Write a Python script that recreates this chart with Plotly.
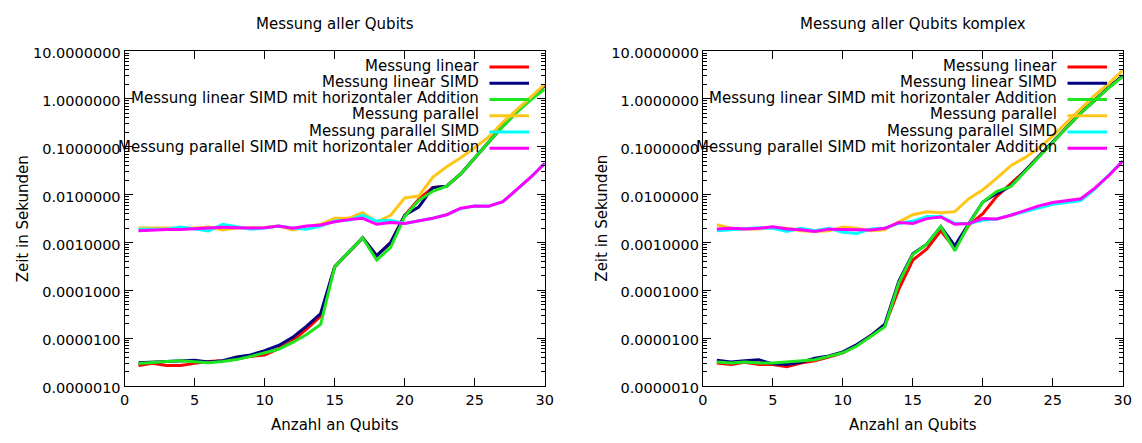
import plotly.graph_objects as go

W, H = 1142, 443

qubits = list(range(1, 31))

series_names = [
    "Messung linear",
    "Messung linear SIMD",
    "Messung linear SIMD mit horizontaler Addition",
    "Messung parallel",
    "Messung parallel SIMD",
    "Messung parallel SIMD mit horizontaler Addition",
]
series_colors = ["#ff0000", "#000080", "#1ee61e", "#ffc61a", "#00ffff", "#ff00ff"]

# --- Messung aller Qubits (seconds) ---
a_linear = [2.7e-6, 3.0e-6, 2.7e-6, 2.7e-6, 3.0e-6, 3.3e-6, 3.4e-6, 3.7e-6, 4.2e-6, 4.5e-6,
            6.1e-6, 9.0e-6, 1.55e-5, 2.9e-5, 3.1e-4, 6.3e-4, 1.25e-3, 5.3e-4, 1.0e-3, 3.7e-3,
            8.0e-3, 1.4e-2, 1.5e-2, 2.7e-2, 5.9e-2, 0.127, 0.27, 0.55, 1.0, 1.9]
a_linear_simd = [3.1e-6, 3.2e-6, 3.3e-6, 3.4e-6, 3.5e-6, 3.2e-6, 3.4e-6, 4.1e-6, 4.5e-6, 5.5e-6,
                 7.1e-6, 1.05e-5, 1.8e-5, 3.3e-5, 3.1e-4, 6.3e-4, 1.25e-3, 5.3e-4, 1.0e-3, 3.7e-3,
                 5.5e-3, 1.4e-2, 1.5e-2, 2.7e-2, 5.9e-2, 0.127, 0.27, 0.55, 1.0, 1.9]
a_linear_simd_ha = [3.0e-6, 3.2e-6, 3.3e-6, 3.4e-6, 3.3e-6, 3.1e-6, 3.3e-6, 3.6e-6, 4.2e-6, 4.9e-6,
                    5.9e-6, 8.2e-6, 1.2e-5, 1.95e-5, 3.1e-4, 6.3e-4, 1.25e-3, 4.3e-4, 7.9e-4, 3.5e-3,
                    7.5e-3, 1.17e-2, 1.5e-2, 2.7e-2, 5.9e-2, 0.125, 0.26, 0.52, 0.95, 1.6]
a_parallel = [2.0e-3, 2.0e-3, 2.0e-3, 2.0e-3, 2.0e-3, 2.1e-3, 1.83e-3, 2.0e-3, 2.0e-3, 2.05e-3,
              2.2e-3, 1.83e-3, 2.1e-3, 2.4e-3, 3.2e-3, 3.2e-3, 4.2e-3, 2.7e-3, 3.7e-3, 8.5e-3,
              9.3e-3, 2.3e-2, 3.8e-2, 5.9e-2, 9.6e-2, 0.16, 0.32, 0.59, 1.05, 2.0]
a_parallel_simd = [1.9e-3, 1.9e-3, 1.9e-3, 2.1e-3, 1.9e-3, 1.75e-3, 2.4e-3, 2.1e-3, 1.9e-3, 2.0e-3,
                   2.2e-3, 2.0e-3, 1.9e-3, 2.2e-3, 2.8e-3, 2.9e-3, 3.7e-3, 2.8e-3, 2.9e-3, 2.5e-3,
                   2.8e-3, 3.2e-3, 3.8e-3, 5.1e-3, 5.8e-3, 5.7e-3, 7.0e-3, 1.25e-2, 2.3e-2, 4.5e-2]
a_parallel_simd_ha = [1.75e-3, 1.83e-3, 1.86e-3, 1.86e-3, 1.92e-3, 1.98e-3, 2.07e-3, 2.04e-3, 2.0e-3, 2.04e-3,
                      2.2e-3, 1.98e-3, 2.2e-3, 2.31e-3, 2.7e-3, 3.0e-3, 3.2e-3, 2.4e-3, 2.6e-3, 2.5e-3,
                      2.8e-3, 3.2e-3, 3.8e-3, 5.2e-3, 5.8e-3, 5.7e-3, 7.1e-3, 1.26e-2, 2.3e-2, 4.5e-2]

# --- Messung aller Qubits komplex (seconds) ---
k_linear = [3.06e-6, 2.84e-6, 3.16e-6, 2.84e-6, 2.84e-6, 2.55e-6, 3.06e-6, 3.41e-6, 4.07e-6, 5.0e-6,
            7.1e-6, 1.14e-5, 1.85e-5, 1.06e-4, 4.3e-4, 7.3e-4, 1.75e-3, 7.5e-4, 2.3e-3, 4.0e-3,
            9.2e-3, 1.7e-2, 3.1e-2, 6.3e-2, 0.126, 0.255, 0.51, 0.94, 1.75, 3.0]
k_linear_simd = [3.47e-6, 3.21e-6, 3.41e-6, 3.57e-6, 2.93e-6, 2.84e-6, 3.16e-6, 3.86e-6, 4.3e-6, 5.2e-6,
                 7.4e-6, 1.14e-5, 1.97e-5, 1.56e-4, 5.8e-4, 9.2e-4, 2.14e-3, 8.5e-4, 2.5e-3, 7.0e-3,
                 1.05e-2, 1.5e-2, 3.1e-2, 6.3e-2, 0.126, 0.255, 0.51, 0.94, 1.75, 3.0]
k_linear_simd_ha = [3.21e-6, 3.06e-6, 3.21e-6, 3.06e-6, 3.06e-6, 3.21e-6, 3.3e-6, 3.57e-6, 4.2e-6, 5.0e-6,
                    6.9e-6, 1.1e-5, 1.74e-5, 1.44e-4, 5.6e-4, 9.2e-4, 2.14e-3, 6.7e-4, 2.4e-3, 7.0e-3,
                    1.17e-2, 1.47e-2, 3.0e-2, 6.2e-2, 0.124, 0.25, 0.5, 0.92, 1.7, 2.9]
k_parallel = [2.35e-3, 1.98e-3, 1.92e-3, 1.92e-3, 2.05e-3, 1.98e-3, 1.75e-3, 1.7e-3, 1.75e-3, 2.1e-3,
              1.98e-3, 1.75e-3, 1.84e-3, 2.7e-3, 3.8e-3, 4.4e-3, 4.2e-3, 4.4e-3, 8.2e-3, 1.26e-2,
              2.2e-2, 4.0e-2, 5.9e-2, 9.3e-2, 0.168, 0.32, 0.64, 1.19, 2.1, 3.9]
k_parallel_simd = [1.76e-3, 1.84e-3, 1.98e-3, 2.03e-3, 1.98e-3, 1.7e-3, 1.98e-3, 1.76e-3, 1.98e-3, 1.64e-3,
                   1.55e-3, 1.92e-3, 1.98e-3, 2.5e-3, 2.8e-3, 3.5e-3, 3.5e-3, 2.5e-3, 2.5e-3, 2.9e-3,
                   3.1e-3, 3.7e-3, 4.5e-3, 5.4e-3, 6.3e-3, 6.8e-3, 7.5e-3, 1.3e-2, 2.5e-2, 5.0e-2]
k_parallel_simd_ha = [1.92e-3, 1.98e-3, 1.92e-3, 1.98e-3, 2.14e-3, 1.92e-3, 1.84e-3, 1.7e-3, 1.9e-3, 1.84e-3,
                      1.84e-3, 1.82e-3, 1.98e-3, 2.6e-3, 2.5e-3, 3.15e-3, 3.4e-3, 2.4e-3, 2.5e-3, 3.15e-3,
                      3.1e-3, 3.7e-3, 4.6e-3, 5.8e-3, 6.8e-3, 7.4e-3, 8.2e-3, 1.36e-2, 2.5e-2, 5.0e-2]

panel_titles = ["Messung aller Qubits", "Messung aller Qubits komplex"]
x_title = "Anzahl an Qubits"
y_title = "Zeit in Sekunden"

panels = [
    [a_linear, a_linear_simd, a_linear_simd_ha, a_parallel, a_parallel_simd, a_parallel_simd_ha],
    [k_linear, k_linear_simd, k_linear_simd_ha, k_parallel, k_parallel_simd, k_parallel_simd_ha],
]

# plot boxes in pixels (left, right, top, bottom)
boxes = [(121, 546.5, 46.5, 394.5), (706.5, 1131.7, 46.5, 394.5)]
FONT = "DejaVu Sans, Liberation Sans, sans-serif"
TEXT = dict(family=FONT, size=15, color="black")


def px(x):
    return x / W


def py(y):
    return 1 - y / H


fig = go.Figure()
annotations = []
shapes = []

for i, (series, box) in enumerate(zip(panels, boxes)):
    xa = "x" if i == 0 else "x2"
    ya = "y" if i == 0 else "y2"
    for name, color, vals in zip(series_names, series_colors, series):
        fig.add_trace(go.Scatter(
            x=qubits, y=vals, mode="lines", name=name,
            line=dict(color=color, width=3),
            xaxis=xa, yaxis=ya, showlegend=False,
        ))

    left, right, top, bottom = box
    axis_common = dict(
        showline=True, linecolor="black", linewidth=1, mirror="allticks",
        ticks="inside", tickcolor="black", showgrid=False, zeroline=False,
        tickfont=dict(family=FONT, size=14.5, color="black"),
    )
    xkey = "xaxis" if i == 0 else "xaxis2"
    ykey = "yaxis" if i == 0 else "yaxis2"
    fig.update_layout({
        xkey: dict(domain=[px(left), px(right)], range=[0, 30], dtick=5, tick0=0,
                   ticklen=8, anchor=ya, **axis_common),
        ykey: dict(domain=[py(bottom), py(top)], type="log", range=[-6, 1], dtick=1,
                   tickformat=".7f", ticklen=8, anchor=xa, ticklabelshift=2,
                   minor=dict(ticks="inside", ticklen=4, tickcolor="black", showgrid=False),
                   **axis_common),
    })

    cx = (left + right) / 2
    annotations.append(dict(text=panel_titles[i], x=px(cx), y=py(19), xref="paper", yref="paper",
                            showarrow=False, xanchor="center", yanchor="middle", font=TEXT))
    annotations.append(dict(text=x_title, x=px(cx), y=py(435), xref="paper", yref="paper",
                            showarrow=False, xanchor="center", yanchor="middle", font=TEXT))
    annotations.append(dict(text=y_title, x=px(left - 103), y=py((top + bottom) / 2),
                            xref="paper", yref="paper", textangle=-90,
                            showarrow=False, xanchor="center", yanchor="middle", font=TEXT))

    # key in the upper right corner: right-aligned labels with line samples
    for j, (name, color) in enumerate(zip(series_names, series_colors)):
        row_y = 63.3 + j * 16.85
        annotations.append(dict(text=name, x=px(right - 65), y=py(row_y - 1.5),
                                xref="paper", yref="paper",
                                showarrow=False, xanchor="right", yanchor="middle", font=TEXT))
        shapes.append(dict(type="line", xref="paper", yref="paper",
                           x0=px(right - 56), x1=px(right - 16), y0=py(row_y), y1=py(row_y),
                           line=dict(color=color, width=3)))

fig.update_layout(
    width=W, height=H,
    margin=dict(l=0, r=0, t=0, b=0),
    paper_bgcolor="white", plot_bgcolor="white",
    annotations=annotations, shapes=shapes,
    showlegend=False,
)

fig.write_html("out.html")
